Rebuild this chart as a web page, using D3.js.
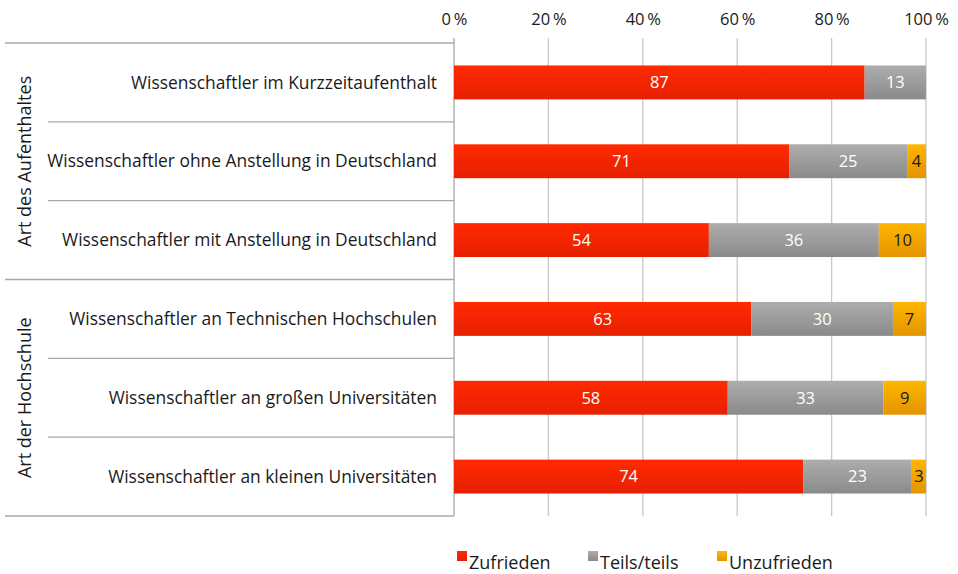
<!DOCTYPE html>
<html>
<head>
<meta charset="UTF-8">
<script src="https://cdn.jsdelivr.net/npm/d3@7"></script>
<style>
    body { margin: 0; background: #ffffff; }
    svg text { font-family: "Open Sans", "Noto Sans", sans-serif; fill: #1a1a1a; }
</style>
</head>
<body>
<svg id="chart" width="958" height="574"></svg>
<script>
// data
var categories = [
    "Wissenschaftler im Kurzzeitaufenthalt",
    "Wissenschaftler ohne Anstellung in Deutschland",
    "Wissenschaftler mit Anstellung in Deutschland",
    "Wissenschaftler an Technischen Hochschulen",
    "Wissenschaftler an großen Universitäten",
    "Wissenschaftler an kleinen Universitäten"
];
var groups = ["Art des Aufenthaltes", "Art der Hochschule"];
var groupOf = [0, 0, 0, 1, 1, 1];
var seriesNames = ["Zufrieden", "Teils/teils", "Unzufrieden"];
var zufrieden = [87, 71, 54, 63, 58, 74];
var teils = [13, 25, 36, 30, 33, 23];
var unzufrieden = [0, 4, 10, 7, 9, 3];
var tickValues = [0, 20, 40, 60, 80, 100];

var svg = d3.select("#chart");
var plotLeft = 454, plotRight = 926, plotTop = 43, plotBottom = 516;

var x = d3.scaleLinear().domain([0, 100]).range([plotLeft, plotRight]);
var y = d3.scaleBand().domain(categories).range([plotTop, plotBottom]).paddingInner(0.57).paddingOuter(0.285);
var band = d3.scaleBand().domain(categories).range([plotTop, plotBottom]);

var colors = [["#ff2a00", "#e62000"], ["#adadad", "#8a8a8a"], ["#ffb600", "#e39400"]];
var textColors = ["#ffffff", "#ffffff", "#1a1a1a"];

// gradients
var defs = svg.append("defs");
colors.forEach(function(c, i) {
    var g = defs.append("linearGradient").attr("id", "grad" + i)
        .attr("x1", 0).attr("y1", 0).attr("x2", 0).attr("y2", 1);
    g.append("stop").attr("offset", "0%").attr("stop-color", c[0]);
    g.append("stop").attr("offset", "100%").attr("stop-color", c[1]);
});

// gridlines
svg.append("g").selectAll("line").data(tickValues.slice(1)).enter()
    .append("line")
    .attr("x1", function(d){ return x(d); }).attr("x2", function(d){ return x(d); })
    .attr("y1", plotTop - 5).attr("y2", plotBottom)
    .attr("stroke", "#c8c8c8").attr("stroke-width", 1.3);

// top axis labels
var axis = d3.axisTop(x).tickValues(tickValues).tickSize(0).tickPadding(0)
    .tickFormat(function(d){ return d + "\u2009%"; });
var axisG = svg.append("g").attr("transform", "translate(0,25)").call(axis);
axisG.select(".domain").remove();
axisG.selectAll("text").attr("font-size", 16.5).attr("fill", "#1a1a1a")
    .style("font-family", "'Open Sans', sans-serif");

// horizontal row lines
var rowLines = [];
categories.forEach(function(c, i) {
    if (i > 0) rowLines.push({ y: band(c), full: groupOf[i] !== groupOf[i - 1] });
});
rowLines.unshift({ y: plotTop, full: true });
rowLines.push({ y: plotBottom, full: true });
svg.append("g").selectAll("line").data(rowLines).enter()
    .append("line")
    .attr("x1", function(d){ return d.full ? 5 : 48; })
    .attr("x2", plotLeft)
    .attr("y1", function(d){ return d.y; }).attr("y2", function(d){ return d.y; })
    .attr("stroke", "#a8a8a8").attr("stroke-width", 1.3);

// vertical axis line
svg.append("line").attr("x1", plotLeft).attr("x2", plotLeft).attr("y1", plotTop - 5).attr("y2", plotBottom)
    .attr("stroke", "#a8a8a8").attr("stroke-width", 1.3);

// category labels
svg.append("g").selectAll("text").data(categories).enter()
    .append("text")
    .attr("x", 437)
    .attr("y", function(d){ return band(d) + band.bandwidth() / 2; })
    .attr("dy", "0.35em")
    .attr("text-anchor", "end")
    .attr("font-size", 17.4)
    .text(function(d){ return d; });

// group labels
groups.forEach(function(g, gi) {
    var idx = categories.filter(function(c, i){ return groupOf[i] === gi; });
    var y0 = band(idx[0]), y1 = band(idx[idx.length - 1]) + band.bandwidth();
    svg.append("text")
        .attr("transform", "translate(25," + ((y0 + y1) / 2) + ") rotate(-90)")
        .attr("dy", "0.35em")
        .attr("text-anchor", "middle")
        .attr("font-size", 18)
        .text(g);
});

// stacked bars
var rows = categories.map(function(c, i) {
    return { cat: c, values: [zufrieden[i], teils[i], unzufrieden[i]] };
});
var stack = d3.stack().keys([0, 1, 2]).value(function(d, k){ return d.values[k]; });
var layers = stack(rows);

var barG = svg.append("g");
layers.forEach(function(layer, k) {
    var gl = barG.append("g");
    gl.selectAll("rect").data(layer).enter()
        .append("rect")
        .attr("x", function(d){ return x(d[0]); })
        .attr("y", function(d){ return y(d.data.cat); })
        .attr("width", function(d){ return x(d[1]) - x(d[0]); })
        .attr("height", y.bandwidth())
        .attr("fill", "url(#grad" + k + ")");
    gl.selectAll("text").data(layer.filter(function(d){ return d[1] - d[0] > 0; })).enter()
        .append("text")
        .attr("x", function(d){ return (x(d[0]) + x(d[1])) / 2; })
        .attr("y", function(d){ return y(d.data.cat) + y.bandwidth() / 2; })
        .attr("dy", "0.35em")
        .attr("text-anchor", "middle")
        .attr("font-size", 16.5)
        .style("fill", textColors[k])
        .text(function(d){ return d[1] - d[0]; });
});

// legend
var legendX = [457, 588, 717];
var lg = svg.append("g");
seriesNames.forEach(function(s, i) {
    lg.append("rect").attr("x", legendX[i]).attr("y", 551).attr("width", 10).attr("height", 10)
        .attr("fill", "url(#grad" + i + ")");
    lg.append("text").attr("x", legendX[i] + 12).attr("y", 563).attr("dy", "0.35em")
        .attr("font-size", 18).text(s);
});
</script>
</body>
</html>
